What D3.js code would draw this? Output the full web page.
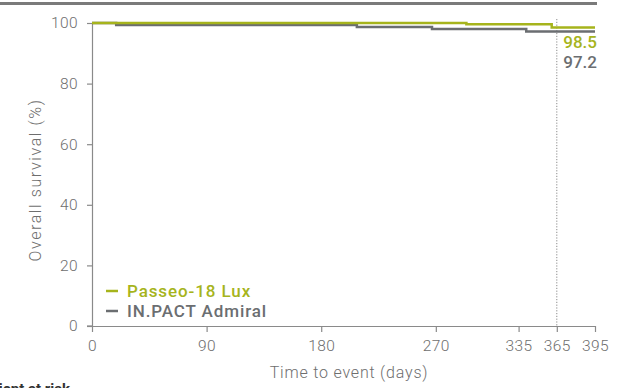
<!DOCTYPE html>
<html><head><meta charset="utf-8">
<script src="https://cdn.jsdelivr.net/npm/d3@7"></script>
<style>
body{margin:0;background:#fff;}
svg{display:block;font-family:Roboto, "DejaVu Sans", sans-serif;}
</style></head>
<body><svg id="c" width="625" height="388"></svg>
<script>
const seriesNames = ["Passeo-18 Lux", "IN.PACT Admiral"];
const passeoDays = [0, 294, 361, 395];
const passeoSurv = [100, 99.6, 98.5, 98.5];
const admiralDays = [0, 19, 208, 267, 341, 395];
const admiralSurv = [100, 99.3, 98.7, 98.0, 97.2, 97.2];
const xTicks = [0, 90, 180, 270, 335, 365, 395];
const yTicks = [0, 20, 40, 60, 80, 100];
const endLabels = ["98.5", "97.2"];
const markDay = 365;
const colors = ["#a6b41c", "#6b6e71"];

const svg = d3.select("#c");
const x = d3.scaleLinear().domain([0, 395]).range([92, 595]);
const y = d3.scaleLinear().domain([0, 100]).range([326, 23]);

// top rule
svg.append("line").attr("x1",0).attr("x2",597).attr("y1",3.5).attr("y2",3.5)
  .attr("stroke","#7a7a7a").attr("stroke-width",3);

// axes
const xAxis = svg.append("g").attr("transform","translate(0,326)")
  .call(d3.axisBottom(x).tickValues(xTicks).tickSize(6).tickPadding(8).tickSizeOuter(0));
const yAxis = svg.append("g").attr("transform","translate(92,0)")
  .call(d3.axisLeft(y).tickValues(yTicks).tickSize(5).tickPadding(9).tickSizeOuter(0));
[xAxis,yAxis].forEach(g=>{
  g.select(".domain").attr("stroke","#8a8a8a").attr("stroke-width",1.2);
  g.selectAll(".tick line").attr("stroke","#8a8a8a").attr("stroke-width",1.2);
  g.selectAll("text").attr("fill","#6e6e6e").attr("font-size",15.5).attr("font-weight",300)
   .attr("font-family","Roboto, sans-serif").attr("letter-spacing",0.4);
});
svg.append("line").attr("x1",87).attr("x2",92).attr("y1",326).attr("y2",326).attr("stroke","#8a8a8a").attr("stroke-width",1.2);

// dotted marker at 365
svg.append("line").attr("x1",x(markDay)).attr("x2",x(markDay)).attr("y1",y(100)-4).attr("y2",326)
  .attr("stroke","#8a8a8a").attr("stroke-width",1).attr("stroke-dasharray","1.2,1.6");

// curves
const line = d3.line().x(d=>x(d[0])).y(d=>y(d[1])).curve(d3.curveStepAfter);
const series = [
  admiralDays.map((d,i)=>[d, admiralSurv[i]]),
  passeoDays.map((d,i)=>[d, passeoSurv[i]])
];
svg.append("path").datum(series[0]).attr("d",line).attr("fill","none").attr("stroke",colors[1]).attr("stroke-width",2.5);
svg.append("path").datum(series[1]).attr("d",line).attr("fill","none").attr("stroke",colors[0]).attr("stroke-width",2.5);

// end labels
endLabels.forEach((t,i)=>{
  svg.append("text").attr("x",597).attr("y",48+i*20).attr("text-anchor","end")
    .attr("fill",colors[i]).attr("font-size",17).attr("font-weight",500).text(t);
});

// legend
seriesNames.forEach((n,i)=>{
  const yy = 291 + i*20;
  svg.append("line").attr("x1",106).attr("x2",118).attr("y1",yy).attr("y2",yy)
    .attr("stroke",colors[i]).attr("stroke-width",2.5);
  svg.append("text").attr("x",127).attr("y",yy+6).attr("fill",colors[i])
    .attr("font-size",17).attr("font-weight",500).attr("letter-spacing",0.9).text(n);
});

// axis titles
svg.append("text").attr("x",349).attr("y",378).attr("text-anchor","middle")
  .attr("fill","#6e6e6e").attr("font-size",16).attr("font-weight",300).attr("letter-spacing",0.8).text("Time to event (days)");
svg.append("text").attr("transform","translate(41,180) rotate(-90)").attr("text-anchor","middle")
  .attr("fill","#6e6e6e").attr("font-size",16).attr("font-weight",300).attr("letter-spacing",1.6).text("Overall survival (%)");

// caption partly below the visible area (as in reference)
svg.append("text").attr("x",70).attr("y",394).attr("text-anchor","end")
  .attr("fill","#333").attr("font-size",15).attr("font-weight",700).text("Patient at risk");
</script></body></html>
